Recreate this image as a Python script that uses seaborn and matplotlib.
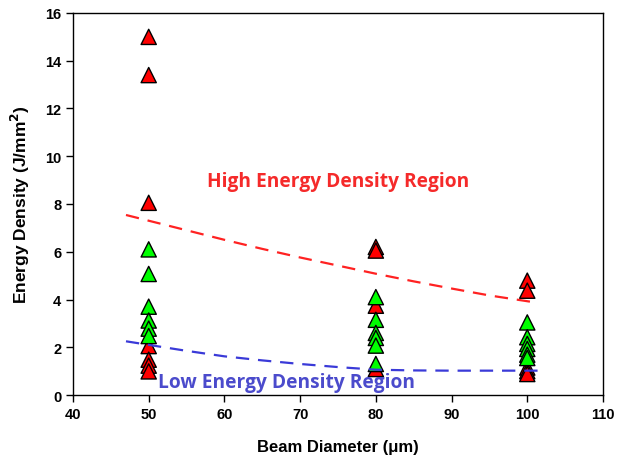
import matplotlib
matplotlib.use("Agg")
import matplotlib.pyplot as plt
import seaborn as sns
import pandas as pd

# ---- data ----
red_x = [50, 50, 50, 50, 50, 50, 50,
         80, 80, 80, 80,
         100, 100, 100, 100, 100]
red_y = [15.0, 13.4, 8.05, 2.05, 1.48, 1.23, 0.99,
         6.2, 6.05, 3.74, 1.09,
         4.79, 4.37, 1.15, 1.0, 0.88]
green_x = [50, 50, 50, 50, 50, 50,
           80, 80, 80, 80, 80, 80,
           100, 100, 100, 100, 100, 100]
green_y = [6.1, 5.07, 3.7, 3.12, 2.78, 2.47,
           4.1, 3.15, 2.6, 2.39, 2.07, 1.3,
           3.04, 2.42, 2.14, 1.93, 1.69, 1.55]

high_x = [47, 50, 55, 60, 65, 70, 75, 80, 85, 90, 95, 101]
high_y = [7.54, 7.30, 6.90, 6.50, 6.12, 5.76, 5.42, 5.08, 4.76, 4.46, 4.17, 3.88]
low_x = [47, 50, 55, 60, 65, 70, 75, 80, 85, 90, 95, 101.5]
low_y = [2.25, 2.10, 1.85, 1.62, 1.45, 1.30, 1.17, 1.06, 1.03, 1.02, 1.02, 1.02]

x_ticks = [40, 50, 60, 70, 80, 90, 100, 110]
y_ticks = [0, 2, 4, 6, 8, 10, 12, 14, 16]

points = pd.DataFrame({
    "x": red_x + green_x,
    "y": red_y + green_y,
    "cls": ["red"] * len(red_x) + ["green"] * len(green_x),
})
high = pd.DataFrame({"x": high_x, "y": high_y})
low = pd.DataFrame({"x": low_x, "y": low_y})

sns.set_theme(style="ticks")
plt.rcParams["font.family"] = ["Liberation Sans", "DejaVu Sans"]
plt.rcParams["text.color"] = "black"
plt.rcParams["axes.labelcolor"] = "black"

fig = plt.figure(figsize=(6.17, 4.60), dpi=100)
ax = fig.add_axes([0.1183, 0.1391, 0.8590, 0.8305])

sns.scatterplot(data=points, x="x", y="y", hue="cls",
                palette={"red": "#ff0000", "green": "#00ff00"},
                marker="^", s=120, edgecolor="black", linewidth=1.0,
                legend=False, ax=ax, zorder=3)

sns.lineplot(data=high, x="x", y="y", color="#ff2222", lw=1.6, ax=ax, zorder=4)
ax.lines[-1].set_linestyle((0, (6, 4)))
sns.lineplot(data=low, x="x", y="y", color="#3a3ad8", lw=1.6, ax=ax, zorder=4)
ax.lines[-1].set_linestyle((0, (6, 4)))

ax.text(57.7, 8.98, "High Energy Density Region", color="#f52a2a",
        fontsize=13.8, fontweight="bold", family=["Open Sans", "DejaVu Sans"],
        ha="left", va="center")
ax.text(51.2, 0.55, "Low Energy Density Region", color="#4b4bcc",
        fontsize=13.8, fontweight="bold", family=["Open Sans", "DejaVu Sans"],
        ha="left", va="center", zorder=5)

ax.set_xlim(40, 110)
ax.set_ylim(0, 16)
ax.set_xticks(x_ticks)
ax.set_yticks(y_ticks)
ax.tick_params(axis="both", which="both", direction="out", length=5,
               width=1, labelsize=10.5, colors="black", top=False, right=False)
for lab in ax.get_xticklabels() + ax.get_yticklabels():
    lab.set_fontweight("bold")
for sp in ax.spines.values():
    sp.set_visible(True)
    sp.set_color("black")
    sp.set_linewidth(1.0)

ax.set_xlabel("Beam Diameter (μm)", fontsize=12, fontweight="bold", labelpad=13)
ax.set_ylabel("Energy Density (J/mm$^\\mathbf{2}$)", fontsize=12.5,
              fontweight="bold", labelpad=9)

fig.savefig("out.png", dpi=100)
